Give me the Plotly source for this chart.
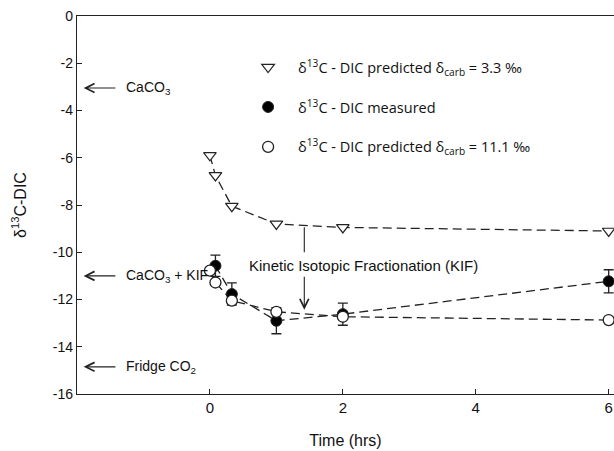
import plotly.graph_objects as go

# Data
t_pred33 = [0, 0.083, 0.33, 1, 2, 6]
y_pred33 = [-5.9, -6.75, -8.05, -8.8, -8.95, -9.1]

t_meas = [0.083, 0.33, 1, 2, 6]
y_meas = [-10.57, -11.77, -12.9, -12.62, -11.23]
err_meas = [0.45, 0.47, 0.55, 0.47, 0.49]

t_pred111 = [0, 0.083, 0.33, 1, 2, 6]
y_pred111 = [-10.78, -11.28, -12.05, -12.52, -12.73, -12.87]

x_ticks = [0, 2, 4, 6]
x_ticktext = ["0", "2", "4", "6"]
y_ticks = [0, -2, -4, -6, -8, -10, -12, -14, -16]
y_ticktext = ["0", "-2", "-4", "-6", "-8", "-10", "-12", "-14", "-16"]

LINE = "#222222"
DASH = "9px,5px"
FONT = "Liberation Sans, Arial, sans-serif"
LEGFONT = "Open Sans, Noto Sans, sans-serif"

fig = go.Figure()

# dashed connecting lines
for xs, ys in [(t_pred33, y_pred33), (t_meas, y_meas), (t_pred111, y_pred111)]:
    fig.add_trace(go.Scatter(x=xs, y=ys, mode="lines", showlegend=False,
                             line=dict(color=LINE, width=1.3, dash=DASH),
                             hoverinfo="skip"))

fig.add_trace(go.Scatter(
    x=t_pred33, y=y_pred33, mode="markers", legendgroup="a", legendrank=1,
    name="δ<sup>13</sup>C - DIC predicted δ<sub>carb</sub> = 3.3 ‰",
    marker=dict(symbol="triangle-down", size=11, color="white",
                line=dict(color=LINE, width=1.2))))

fig.add_trace(go.Scatter(
    x=t_meas, y=y_meas, mode="markers", legendgroup="b", legendrank=2,
    name="δ<sup>13</sup>C - DIC measured",
    error_y=dict(type="data", array=err_meas, color=LINE, thickness=1.3, width=5),
    marker=dict(symbol="circle", size=11, color="black",
                line=dict(color=LINE, width=1))))

fig.add_trace(go.Scatter(
    x=t_pred111, y=y_pred111, mode="markers", legendgroup="c", legendrank=3,
    name="δ<sup>13</sup>C - DIC predicted δ<sub>carb</sub> = 11.1 ‰",
    marker=dict(symbol="circle", size=11, color="white",
                line=dict(color=LINE, width=1.3))))

annots = []
# left-side reference arrows
for yv, label in [(-3.05, "CaCO<sub>3</sub>"),
                  (-11.0, "CaCO<sub>3</sub> + KIF"),
                  (-14.85, "Fridge CO<sub>2</sub>")]:
    annots.append(dict(x=-1.9, y=yv, ax=-1.4, ay=yv, xref="x", yref="y",
                       axref="x", ayref="y", text="", showarrow=True,
                       arrowhead=5, arrowsize=1.6, arrowwidth=1.1,
                       arrowcolor=LINE))
    annots.append(dict(x=-1.3, y=yv, xref="x", yref="y", text=label,
                       showarrow=False, xanchor="left", yanchor="middle",
                       font=dict(family=FONT, size=14, color="#111")))

# KIF annotation
annots.append(dict(x=1.42, y=-10.0, ax=1.42, ay=-8.88, xref="x", yref="y",
                   axref="x", ayref="y", text="", showarrow=True,
                   arrowhead=0, arrowwidth=1.1, arrowcolor=LINE))
annots.append(dict(x=1.42, y=-12.43, ax=1.42, ay=-10.97, xref="x", yref="y",
                   axref="x", ayref="y", text="", showarrow=True,
                   arrowhead=5, arrowsize=1.6, arrowwidth=1.1,
                   arrowcolor=LINE))
annots.append(dict(x=2.31, y=-10.55, xref="x", yref="y",
                   text="Kinetic Isotopic Fractionation (KIF)",
                   showarrow=False, xanchor="center", yanchor="middle",
                   font=dict(family=FONT, size=15, color="#111")))

fig.update_layout(
    width=614, height=451,
    margin=dict(l=77, r=0, t=16, b=57),
    paper_bgcolor="white", plot_bgcolor="white",
    font=dict(family=FONT, size=14, color="#111"),
    showlegend=True,
    legend=dict(x=0.300, y=0.907, xanchor="left", yanchor="top",
                bgcolor="rgba(0,0,0,0)", traceorder="grouped",
                tracegroupgap=18, itemwidth=50,
                font=dict(family=LEGFONT, size=14.5, color="#111")),
    annotations=annots,
    xaxis=dict(range=[-2, 6.08], tickvals=x_ticks, ticktext=x_ticktext,
               ticks="inside", automargin=False,
               ticklen=5, tickcolor=LINE, showline=True, linecolor=LINE,
               linewidth=1.3, mirror=True, showgrid=False, zeroline=False,
               tickfont=dict(family=FONT, size=15),
               title=dict(text="Time (hrs)", font=dict(family=FONT, size=16),
                          standoff=19)),
    yaxis=dict(range=[-16, 0], tickvals=y_ticks, ticktext=y_ticktext,
               ticks="inside", ticklen=5, automargin=False,
               tickcolor=LINE, showline=True, linecolor=LINE, linewidth=1.3,
               showgrid=False, zeroline=False,
               tickfont=dict(family=FONT, size=14),
               title=dict(text="δ<sup>13</sup>C-DIC",
                          font=dict(family=FONT, size=16), standoff=22)),
)

fig.write_html("out.html",
               config={"displayModeBar": False},
               post_script="document.body.style.margin='0';"
                           "document.body.style.padding='0';"
                           "document.body.style.overflow='hidden';")
